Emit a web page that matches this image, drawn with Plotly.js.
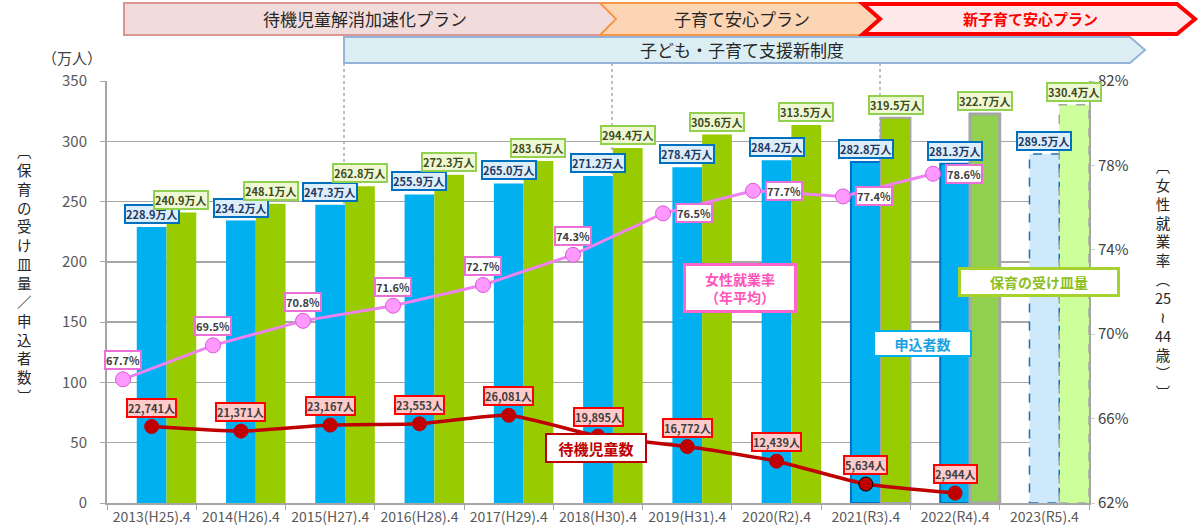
<!DOCTYPE html>
<html>
<head>
<meta charset="utf-8">
<script src="https://cdn.plot.ly/plotly-3.0.1.min.js"></script>
<style>
  body { margin: 0; background: #fff; }
  #chart { width: 1200px; height: 530px; }
</style>
</head>
<body>
<div id="chart"></div>
<script>
// data
var years = ['2013(H25).4', '2014(H26).4', '2015(H27).4', '2016(H28).4', '2017(H29).4', '2018(H30).4',
             '2019(H31).4', '2020(R2).4', '2021(R3).4', '2022(R4).4', '2023(R5).4'];
var applicants = [228.9, 234.2, 247.3, 255.9, 265.0, 271.2, 278.4, 284.2, 282.8, 281.3, 289.5];   // 申込者数 (万人)
var capacity = [240.9, 248.1, 262.8, 272.3, 283.6, 294.4, 305.6, 313.5, 319.5, 322.7, 330.4];     // 保育の受け皿量 (万人)
var employRate = [67.7, 69.5, 70.8, 71.6, 72.7, 74.3, 76.5, 77.7, 77.4, 78.6];                   // 女性就業率 (%)
var waiting = [22741, 21371, 23167, 23553, 26081, 19895, 16772, 12439, 5634, 2944];              // 待機児童数 (人)

var FONT = '"Noto Sans CJK JP", "Noto Sans", sans-serif';

// pixel -> paper helpers for decorations
var L = 107, R = 1089, T = 81, B = 503;
function fx(p) { return (p - L) / (R - L); }
function fy(p) { return (B - p) / (B - T); }
function path(pts) {
  return pts.map(function (p, i) { return (i ? 'L' : 'M') + fx(p[0]) + ',' + fy(p[1]); }).join(' ') + ' Z';
}

var n = years.length;
var last = n - 1;

var blueFill = years.map(function (y, i) { return i == last ? '#CDE9FB' : '#00B0F0'; });
var blueLine = years.map(function (y, i) { return (i == 8 || i == 9) ? '#0070C0' : 'rgba(0,0,0,0)'; });
var blueLineW = years.map(function (y, i) { return (i == 8 || i == 9) ? 2 : 0; });
var greenFill = years.map(function (y, i) { return i == last ? '#CCFF99' : (i == 9 ? '#92D050' : '#99CC00'); });
var greenLine = years.map(function (y, i) { return (i == 8 || i == 9) ? '#A6A6A6' : 'rgba(0,0,0,0)'; });
var greenLineW = years.map(function (y, i) { return i == 9 ? 3 : (i == 8 ? 2 : 0); });

var applicantBars = {
  x: years, y: applicants, type: 'bar', name: '申込者数',
  width: 1 / 3, offset: -1 / 6,
  marker: {color: blueFill, line: {color: blueLine, width: blueLineW}},
  hoverinfo: 'skip'
};

var capacityBars = {
  x: years, y: capacity, type: 'bar', name: '保育の受け皿量',
  width: 1 / 3, offset: 1 / 6,
  marker: {color: greenFill, line: {color: greenLine, width: greenLineW}},
  hoverinfo: 'skip'
};

var rateLine = {
  x: years.slice(0, employRate.length), y: employRate,
  xaxis: 'x2', yaxis: 'y3',
  mode: 'lines+markers', type: 'scatter', name: '女性就業率',
  line: {color: '#EE82EE', width: 3},
  marker: {color: '#FF99FF', size: 15, line: {color: '#D65CD6', width: 1}},
  hoverinfo: 'skip'
};

var waitingLine = {
  x: years.slice(0, waiting.length), y: waiting,
  yaxis: 'y4',
  mode: 'lines+markers', type: 'scatter', name: '待機児童数',
  line: {color: '#C00000', width: 3.5, shape: 'spline', smoothing: 0.5},
  marker: {color: '#C00000', size: 14,
           line: {color: waiting.map(function (v, i) { return i == 8 ? '#000000' : '#C00000'; }), width: 1}},
  hoverinfo: 'skip'
};

// right axis holder (keeps y2 drawn)
var rightHolder = {
  x: years.slice(0, employRate.length), y: employRate, yaxis: 'y2',
  mode: 'lines', line: {width: 0, color: 'rgba(0,0,0,0)'}, hoverinfo: 'skip', showlegend: false
};

var annotations = [];

// bar value labels
applicants.forEach(function (v, i) {
  annotations.push({
    xref: 'x', yref: 'y', x: i, y: v, yanchor: 'bottom', yshift: 3,
    text: '<b>' + v.toFixed(1) + '万人</b>', showarrow: false,
    bgcolor: '#DCEEFA', bordercolor: '#0070C0', borderwidth: 2, borderpad: 0,
    font: {family: FONT, size: 11, color: '#1F3864'}
  });
});
capacity.forEach(function (v, i) {
  annotations.push({
    xref: 'x', yref: 'y', x: i + 1 / 3, y: v, yanchor: 'bottom', yshift: 3,
    text: '<b>' + v.toFixed(1) + '万人</b>', showarrow: false,
    bgcolor: '#EEF8D2', bordercolor: '#92D050', borderwidth: 2, borderpad: 0,
    font: {family: FONT, size: 11, color: '#3F4A1F'}
  });
});
employRate.forEach(function (v, i) {
  var a = {
    xref: 'x2', yref: 'y3', x: i, y: v,
    text: '<b>' + v.toFixed(1) + '%</b>', showarrow: false,
    bgcolor: '#FFFFFF', bordercolor: '#EA6FD6', borderwidth: 2, borderpad: 0,
    font: {family: FONT, size: 11, color: '#404040'}
  };
  if (i < 6) { a.yanchor = 'bottom'; a.yshift = 9; }
  else { a.xanchor = 'left'; a.xshift = 12; }
  annotations.push(a);
});
waiting.forEach(function (v, i) {
  annotations.push({
    xref: 'x', yref: 'y4', x: i, y: v, yanchor: 'bottom', yshift: 9,
    text: '<b>' + v.toLocaleString('en-US') + '人</b>', showarrow: false,
    bgcolor: '#FFCACA', bordercolor: '#FF0000', borderwidth: 2, borderpad: 0,
    font: {family: FONT, size: 11, color: '#404040'}
  });
});

// series name boxes
function nameBox(text, cx, cy, w, h, border, bw, color, size) {
  annotations.push({
    xref: 'paper', yref: 'paper', x: fx(cx), y: fy(cy), xanchor: 'center', yanchor: 'middle',
    text: '<b>' + text + '</b>', showarrow: false, width: w, height: h,
    bgcolor: '#FFFFFF', bordercolor: border, borderwidth: bw, borderpad: 0,
    font: {family: FONT, size: size, color: color}
  });
}
nameBox('女性就業率<br>（年平均）', 740, 288, 108, 44, '#FF66CC', 3, '#FF55BB', 14);
nameBox('申込者数', 922, 343, 95, 23, '#00B0F0', 2, '#1BA1E2', 14);
nameBox('保育の受け皿量', 1039, 282, 156, 24, '#A6D22E', 3, '#8CBF1F', 14);
nameBox('待機児童数', 596, 448, 98, 26, '#C00000', 2, '#C00000', 15);

// plan banners
var banners = [
  {pts: [[124, 3], [603, 3], [618, 19], [603, 35], [124, 35]], fill: '#F2DCDB', line: '#DA9694', w: 2},
  {pts: [[600, 3], [868, 3], [884, 19], [868, 35], [600, 35], [616, 19]], fill: '#FCD5B5', line: '#F79646', w: 2},
  {pts: [[863, 4], [1177, 4], [1195, 19], [1177, 34], [863, 34], [880, 19]], fill: '#FDE9E9', line: '#FF0000', w: 4},
  {pts: [[344, 37], [1130, 37], [1145, 50], [1130, 63], [344, 63]], fill: '#DBEEF4', line: '#95B3D7', w: 2}
];
var shapes = banners.map(function (b) {
  return {type: 'path', xref: 'paper', yref: 'paper', path: path(b.pts),
          fillcolor: b.fill, line: {color: b.line, width: b.w}, layer: 'above'};
});

var bannerText = [
  {t: '待機児童解消加速化プラン', x: 365, y: 19, c: '#262626', s: 17, b: false},
  {t: '子育て安心プラン', x: 742, y: 19, c: '#262626', s: 17, b: false},
  {t: '新子育て安心プラン', x: 1030, y: 19, c: '#FF0000', s: 15, b: true},
  {t: '子ども・子育て支援新制度', x: 742, y: 50, c: '#262626', s: 17, b: false}
];
bannerText.forEach(function (b) {
  annotations.push({
    xref: 'paper', yref: 'paper', x: fx(b.x), y: fy(b.y), xanchor: 'center', yanchor: 'middle',
    text: b.b ? '<b>' + b.t + '</b>' : b.t, showarrow: false,
    font: {family: FONT, size: b.s, color: b.c}
  });
});

// dashed separators
[344, 612, 880].forEach(function (p) {
  shapes.push({type: 'line', xref: 'paper', yref: 'paper', x0: fx(p), x1: fx(p), y0: fy(63), y1: 0,
               line: {color: '#808080', width: 1, dash: 'dot'}, layer: 'below'});
});

// 2023 planned bars: dashed outlines
shapes.push({type: 'rect', xref: 'x', yref: 'y', x0: last - 1 / 6, x1: last + 1 / 6, y0: 0, y1: applicants[last],
             line: {color: '#1F6FB8', width: 1.5, dash: 'dash'}, layer: 'above'});
shapes.push({type: 'rect', xref: 'x', yref: 'y', x0: last + 1 / 6, x1: last + 1 / 2, y0: 0, y1: capacity[last],
             line: {color: '#A6A6A6', width: 1.5, dash: 'dash'}, layer: 'above'});

// unit and vertical axis titles
annotations.push({xref: 'paper', yref: 'paper', x: fx(104), y: fy(57), xanchor: 'right', yanchor: 'middle',
                  text: '（万人）', showarrow: false,
                  font: {family: FONT, size: 15, color: '#404040'}});

var leftTitle = ['︹', '保', '育', 'の', '受', 'け', '皿', '量', '／', '申', '込', '者', '数', '︺'];
var rightTitle = ['︹', '女', '性', '就', '業', '率', '︵', '25', '≀', '44', '歳', '︶', '︺'];
annotations.push({xref: 'paper', yref: 'paper', x: fx(24), y: fy(273), xanchor: 'center', yanchor: 'middle',
                  text: leftTitle.join('<br>'), showarrow: false,
                  font: {family: FONT, size: 14.5, color: '#262626'}});
annotations.push({xref: 'paper', yref: 'paper', x: fx(1163), y: fy(278), xanchor: 'center', yanchor: 'middle',
                  text: rightTitle.join('<br>'), showarrow: false,
                  font: {family: FONT, size: 14.5, color: '#262626'}});

var layout = {
  width: 1200, height: 530,
  margin: {l: L, r: 1200 - R, t: T, b: 530 - B, pad: 0},
  paper_bgcolor: '#FFFFFF', plot_bgcolor: '#FFFFFF',
  showlegend: false, hovermode: false, barmode: 'overlay',
  font: {family: FONT, color: '#595959'},
  xaxis: {
    type: 'category', categoryarray: years, range: [-0.5, 10.5],
    showgrid: false, showline: true, linecolor: '#A6A6A6', linewidth: 2,
    ticks: 'outside', tickson: 'boundaries', ticklen: 5, tickcolor: '#A6A6A6',
    tickfont: {family: FONT, size: 14, color: '#595959'}
  },
  xaxis2: {
    type: 'category', categoryarray: years, overlaying: 'x', anchor: 'y',
    range: [-0.178, 10.733], visible: false
  },
  yaxis: {
    range: [0, 350], dtick: 50, showgrid: true, gridcolor: '#A6A6A6', gridwidth: 1.5,
    showline: true, linecolor: '#A6A6A6', linewidth: 2, zeroline: false,
    ticks: 'outside', ticklen: 5, tickcolor: '#A6A6A6', ticklabelstandoff: 10,
    tickfont: {family: FONT, size: 15, color: '#595959'}
  },
  yaxis2: {
    overlaying: 'y', side: 'right', anchor: 'x', range: [62, 82], tick0: 62, dtick: 4, ticksuffix: '%',
    showgrid: false, zeroline: false, showline: true, linecolor: '#A6A6A6', linewidth: 2,
    ticks: 'outside', ticklen: 4, tickcolor: '#D0D0D0',
    tickfont: {family: FONT, size: 15, color: '#404040'}
  },
  yaxis3: {overlaying: 'y', anchor: 'x2', range: [61.14, 83.52], visible: false},
  yaxis4: {overlaying: 'y', anchor: 'x', range: [0, 125500], visible: false},
  shapes: shapes,
  annotations: annotations
};

Plotly.newPlot('chart', [applicantBars, capacityBars, rightHolder, waitingLine, rateLine], layout,
               {displayModeBar: false, staticPlot: true});
</script>
</body>
</html>
